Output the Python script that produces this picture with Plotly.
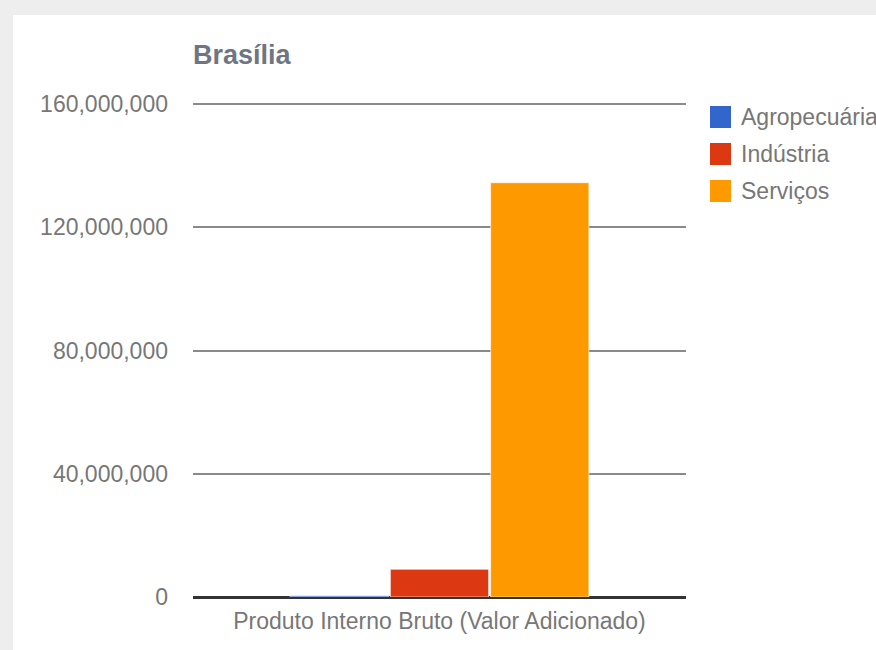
import plotly.graph_objects as go

categories = ["Produto Interno Bruto (Valor Adicionado)"]
series_names = ["Agropecuária", "Indústria", "Serviços"]
agro = [400000]
industria = [9000000]
servicos = [134500000]
colors = ["#3366cc", "#dc3912", "#ff9900"]
tick_vals = [0, 40000000, 80000000, 120000000, 160000000]
tick_text = ["0", "40,000,000", "80,000,000", "120,000,000", "160,000,000"]

FONT = "Arial, Liberation Sans, sans-serif"
W, H = 876, 650
YMAX = 162000000
L, R, B = 193, 190, 53
base_y, top_y = 597, 104  # pixel rows of 0 and 160M
ppu = (base_y - top_y) / 160000000
T = int(round(base_y - YMAX * ppu))
pw, ph = W - L - R, H - T - B

def px(x):
    return (x - L) / pw

def py(y):
    return (H - B - y) / ph

fig = go.Figure()
for name, vals, c in zip(series_names, [agro, industria, servicos], colors):
    fig.add_trace(go.Bar(x=categories, y=vals, name=name, marker_color=c,
                         marker_line=dict(color="rgba(255,255,255,0.6)", width=1),
                         showlegend=False))

shapes = [
    dict(type="rect", xref="paper", yref="paper", x0=px(13), x1=px(W + 5), y0=py(H + 5), y1=py(15),
         fillcolor="white", line=dict(width=0), layer="below"),
]
annotations = []
ys = [117, 154, 191]
for name, c, yc in zip(series_names, colors, ys):
    shapes.append(dict(type="rect", xref="paper", yref="paper", x0=px(710), x1=px(731),
                       y0=py(yc + 11), y1=py(yc - 11), fillcolor=c, line=dict(width=0)))
    annotations.append(dict(x=px(739), y=py(yc), xref="paper", yref="paper", text=name,
                            showarrow=False, xanchor="left", yanchor="middle",
                            font=dict(family=FONT, size=23, color="#777777")))

annotations.append(dict(x=px(191), y=py(55), xref="paper", yref="paper", text="<b>Brasília</b>",
                        showarrow=False, xanchor="left", yanchor="middle",
                        font=dict(family=FONT, size=27, color="#6f7583")))

fig.update_layout(
    width=W, height=H,
    margin=dict(l=L, r=R, t=T, b=B, pad=0),
    paper_bgcolor="#eeeeee", plot_bgcolor="white",
    barmode="group", bargap=0.39, bargroupgap=0.02,
    shapes=shapes, annotations=annotations,
    font=dict(family=FONT, size=23, color="#777777"),
    xaxis=dict(showgrid=False, showline=False, zeroline=False, ticks="",
               ticklabelstandoff=8, tickfont=dict(size=23, color="#777777")),
    yaxis=dict(range=[0, YMAX], tickvals=tick_vals, ticktext=tick_text,
               showgrid=True, gridcolor="#8a8a8a", gridwidth=1.5,
               zeroline=True, zerolinecolor="#333333", zerolinewidth=2.5,
               showline=False, ticks="", ticklabelstandoff=24,
               tickfont=dict(size=23, color="#777777")),
)

fig.write_html("out.html")
